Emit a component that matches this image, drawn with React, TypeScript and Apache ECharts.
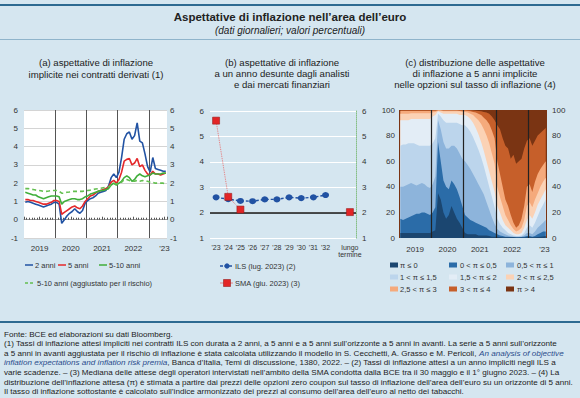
import React, { useEffect, useRef } from "react";
import * as echarts from "echarts";

const FONT = '"Liberation Sans", Arial, Helvetica, sans-serif';
const BG = "#d5e6f0";

// ---------- Panel (a): monthly readings, Jan 2019 – Jul 2023 ----------
const ils2y = [
  0.95, 1.0, 0.95, 0.9, 0.85, 0.8, 0.75, 0.7, 0.75, 0.8, 0.85, 0.95,
  0.95, 0.85, -0.2, 0.0, 0.2, 0.35, 0.45, 0.6, 0.45, 0.35, 0.5, 0.9,
  1.05, 1.15, 1.2, 1.3, 1.45, 1.5, 1.55, 1.6, 1.85, 2.3, 2.5, 2.3,
  2.6, 3.4, 4.4, 4.7, 4.8, 4.4, 4.6, 5.3, 4.3, 4.2, 3.6, 2.9,
  2.6, 3.4, 2.8, 2.75, 2.7, 2.65, 2.65,
];
const ils5y = [
  1.1, 1.1, 1.05, 1.05, 1.0, 0.95, 0.9, 0.85, 0.85, 0.9, 0.95, 1.05,
  1.05, 1.0, 0.3, 0.4, 0.5, 0.6, 0.7, 0.75, 0.65, 0.6, 0.75, 1.0,
  1.15, 1.3, 1.35, 1.45, 1.55, 1.6, 1.65, 1.7, 1.8, 2.05, 2.15, 2.0,
  2.2, 2.6, 3.2, 3.3, 3.35, 3.0, 3.1, 3.35, 2.9, 3.0, 2.7, 2.5,
  2.45, 2.65, 2.5, 2.5, 2.45, 2.5, 2.55,
];
const ils5y5y = [
  1.5, 1.45, 1.4, 1.35, 1.35, 1.25, 1.2, 1.15, 1.2, 1.25, 1.3, 1.3,
  1.3, 1.25, 0.85, 1.0, 1.05, 1.1, 1.15, 1.15, 1.1, 1.1, 1.15, 1.25,
  1.3, 1.4, 1.45, 1.5, 1.55, 1.6, 1.6, 1.65, 1.7, 1.9, 2.0, 1.9,
  2.0, 2.1, 2.3, 2.4, 2.3, 2.1, 2.2, 2.4, 2.5, 2.4, 2.35, 2.4,
  2.45, 2.55, 2.5, 2.5, 2.5, 2.55, 2.55,
];
const ils5y5yAdj = [
  1.7, 1.7, 1.68, 1.65, 1.62, 1.6, 1.58, 1.55, 1.55, 1.57, 1.6, 1.6,
  1.6, 1.55, 1.45, 1.45, 1.5, 1.52, 1.55, 1.55, 1.55, 1.55, 1.55, 1.58,
  1.6, 1.62, 1.65, 1.68, 1.7, 1.72, 1.75, 1.78, 1.8, 1.9, 1.95, 1.95,
  2.0, 2.05, 2.2, 2.2, 2.15, 2.1, 2.1, 2.15, 2.1, 2.15, 2.1, 2.1,
  2.05, 2.05, 2.0, 2.0, 2.0, 2.0, 1.95,
];
const yearLines = [2020, 2021, 2022, 2023];

// ---------- Panel (b) ----------
const horizonLabels = ["'23", "'24", "'25", "'26", "'27", "'28", "'29", "'30", "'31", "'32", "", "lungo\ntermine"];
const ils1y = [2.6, 2.53, 2.46, 2.45, 2.52, 2.52, 2.6, 2.57, 2.6, 2.69, null, null];
const smaSurvey = [5.62, 2.62, 2.12, null, null, null, null, null, null, null, null, 2.02];

// ---------- Panel (c): cumulative shares (%) ----------
const cumLe0 = [
  4, 4, 4, 4, 4, 4, 4, 4, 4, 4, 4, 4,
  5, 6, 35, 30, 20, 15, 18, 25, 20, 15, 12, 8,
  4, 3, 3, 3, 3, 2, 2, 2, 2, 1.5, 1, 1,
  1, 0.8, 0.5, 0.5, 0.5, 0.5, 0.5, 0.3, 0.3, 0.3, 0.4, 0.5,
  0.5, 0.5, 0.5, 0.8, 1, 1.2, 1.5,
];
const cumLe05 = [
  15, 14, 15, 16, 17, 18, 19, 19, 20, 20, 19, 18,
  20, 24, 75, 60, 45, 40, 38, 45, 42, 38, 32, 25,
  18, 16, 14, 13, 12, 11, 10, 9, 8, 6, 5, 4,
  3, 2, 1.5, 1, 1, 0.8, 0.7, 0.6, 0.6, 0.7, 1, 1.5,
  1.5, 1, 1.5, 3, 4, 5, 5,
];
const cumLe1 = [
  40, 40, 41, 42, 43, 42, 41, 42, 43, 42, 40, 39,
  42, 48, 92, 85, 75, 70, 70, 72, 72, 70, 66, 62,
  60, 57, 54, 50, 46, 42, 38, 34, 28, 22, 16, 11,
  7, 5, 4, 3, 2, 1.5, 1.2, 1, 1, 1.2, 2, 4,
  4, 3, 5, 8, 10, 12, 14,
];
const cumLe15 = [
  72, 73, 73, 74, 74, 74, 73, 72, 72, 72, 72, 72,
  74, 78, 97, 95, 92, 90, 90, 90, 90, 90, 89, 88,
  88, 86, 83, 79, 74, 69, 63, 56, 48, 40, 32, 24,
  15, 11, 8, 6, 4, 3, 2, 1.5, 1.5, 2, 4, 8,
  10, 8, 12, 17, 22, 26, 30,
];
const cumLe2 = [
  92, 92, 92, 92, 93, 93, 93, 93, 93, 93, 93, 93,
  95, 96, 99, 98, 97, 97, 97, 97, 97, 97, 96, 96,
  96, 95, 93, 90, 86, 81, 75, 68, 60, 52, 44, 36,
  25, 20, 14, 10, 8, 6, 4, 3, 3, 4, 8, 14,
  18, 15, 20, 26, 30, 34, 38,
];
const cumLe25 = [
  97, 97, 97, 97, 97.5, 97.5, 97.5, 97.5, 97.5, 97.5, 97.5, 97.5,
  98, 98.5, 99.5, 99.5, 99, 99, 99, 99, 99, 99, 99, 98.5,
  98.5, 98, 97, 96, 94, 92, 89, 85, 80, 74, 66, 58,
  40, 32, 25, 18, 14, 10, 7, 5, 6, 8, 14, 25,
  28, 24, 30, 35, 40, 44, 47,
];
const cumLe3 = [
  99.3, 99.3, 99.3, 99.3, 99.3, 99.3, 99.3, 99.3, 99.3, 99.3, 99.3, 99.3,
  99.5, 99.5, 99.8, 99.8, 99.6, 99.6, 99.6, 99.6, 99.6, 99.6, 99.5, 99.5,
  99.5, 99.3, 99, 98.5, 98, 97, 96, 94, 92, 89, 84, 78,
  60, 50, 40, 30, 25, 18, 12, 8, 10, 15, 25, 40,
  42, 36, 44, 50, 54, 57, 60,
];
const cumLe4 = [
  99.8, 99.8, 99.8, 99.8, 99.8, 99.8, 99.8, 99.8, 99.8, 99.8, 99.8, 99.8,
  99.9, 99.9, 99.9, 99.9, 99.9, 99.9, 99.9, 99.9, 99.9, 99.9, 99.9, 99.9,
  100, 100, 99.8, 99.7, 99.5, 99.3, 99, 98.5, 98, 97, 95, 92,
  88, 85, 78, 72, 70, 62, 65, 58, 60, 62, 70, 76,
  78, 72, 76, 80, 82, 84, 86,
];
const bandLabels = [
  "π ≤ 0", "0 < π ≤ 0,5", "0,5 < π ≤ 1",
  "1 < π ≤ 1,5", "1,5 < π ≤ 2", "2 < π ≤ 2,5",
  "2,5 < π ≤ 3", "3 < π ≤ 4", "π > 4",
];
const bandColors = [
  "#1b4670", "#2b6ca8", "#8db4db", "#bcd5ec", "#e3edf6",
  "#fbd2b5", "#f5aa7c", "#c65f2a", "#7a3413",
];
const cumSeries = [cumLe0, cumLe05, cumLe1, cumLe15, cumLe2, cumLe25, cumLe3, cumLe4];

const monthPairs = (arr: (number | null)[]) => arr.map((v, i) => [2019 + (i + 0.5) / 12, v]);

const yearFormatter = (v: number) => {
  const f = v - Math.floor(v);
  if (Math.abs(f - 0.5) > 0.01) return "";
  const y = Math.floor(v);
  return y === 2023 ? "'23" : String(y);
};

const axisLbl = { fontSize: 8, color: "#333", fontFamily: FONT };

function buildOption() {
  const txt = (x: number, y: number, text: string, extra: any = {}) => ({
    type: "text",
    x,
    y,
    silent: true,
    style: {
      text,
      fontFamily: FONT,
      fontSize: 7.5,
      fill: "#333",
      align: "left",
      verticalAlign: "middle",
      ...extra,
    },
  });

  const g: any[] = [];
  // frame lines
  g.push({ type: "rect", shape: { x: 0, y: 4, width: 580, height: 2 }, style: { fill: "#2d6a91" }, silent: true });
  g.push({ type: "rect", shape: { x: 0, y: 39, width: 580, height: 1 }, style: { fill: "#8fb4cb" }, silent: true });
  g.push({ type: "rect", shape: { x: 0, y: 321, width: 580, height: 2 }, style: { fill: "#2d6a91" }, silent: true });
  // main title
  g.push(txt(290, 17, "Aspettative di inflazione nell’area dell’euro", { fontSize: 11.5, fontWeight: "bold", fill: "#222", align: "center" }));
  g.push(txt(290, 30, "(dati giornalieri; valori percentuali)", { fontSize: 10, fontStyle: "italic", fill: "#222", align: "center" }));
  // panel titles
  const pt = { fontSize: 9.6, fill: "#222", align: "center" };
  g.push(txt(96, 62, "(a) aspettative di inflazione", pt));
  g.push(txt(96, 74, "implicite nei contratti derivati (1)", pt));
  g.push(txt(282, 62, "(b) aspettative di inflazione", pt));
  g.push(txt(282, 73, "a un anno desunte dagli analisti", pt));
  g.push(txt(282, 84, "e dai mercati finanziari", pt));
  g.push(txt(475, 62, "(c) distribuzione delle aspettative", pt));
  g.push(txt(475, 73, "di inflazione a 5 anni implicite", pt));
  g.push(txt(475, 84, "nelle opzioni sul tasso di inflazione (4)", pt));

  // legend (a)
  const legA = [
    { x: 25, y: 265, color: "#2152a3", label: "2 anni", dash: null },
    { x: 58, y: 265, color: "#e4282b", label: "5 anni", dash: null },
    { x: 99, y: 265, color: "#3fae3a", label: "5-10 anni", dash: null },
    { x: 25, y: 283, color: "#63bf4f", label: "5-10 anni (aggiustato per il rischio)", dash: [3, 2] },
  ];
  legA.forEach((l) => {
    g.push({
      type: "line",
      silent: true,
      shape: { x1: l.x, y1: l.y, x2: l.x + 8, y2: l.y },
      style: { stroke: l.color, lineWidth: 1.5, lineDash: l.dash || undefined },
    });
    g.push(txt(l.x + (l.dash ? 12 : 10), l.y, l.label));
  });

  // legend (b)
  g.push({ type: "line", silent: true, shape: { x1: 220, y1: 266, x2: 233, y2: 266 }, style: { stroke: "#2152a3", lineWidth: 1.3, lineDash: [3, 1.5] } });
  g.push({ type: "circle", silent: true, shape: { cx: 227, cy: 266, r: 2.6 }, style: { fill: "#2152a3" } });
  g.push(txt(235, 266, "ILS (lug. 2023) (2)"));
  g.push({ type: "line", silent: true, shape: { x1: 220, y1: 283, x2: 233, y2: 283 }, style: { stroke: "#e86a6a", lineWidth: 0.8 } });
  g.push({ type: "rect", silent: true, shape: { x: 223.5, y: 279.5, width: 7, height: 7 }, style: { fill: "#e32526", stroke: "#9b1c1c", lineWidth: 0.6 } });
  g.push(txt(235, 283, "SMA (giu. 2023) (3)"));

  // legend (c)
  const colX = [390, 449, 506];
  const rowY = [265, 277, 289];
  bandLabels.forEach((lab, i) => {
    const r = Math.floor(i / 3);
    const c = i % 3;
    g.push({ type: "rect", silent: true, shape: { x: colX[c], y: rowY[r] - 2.5, width: 8, height: 5 }, style: { fill: bandColors[i] } });
    g.push(txt(colX[c] + (c === 0 ? 10 : 11), rowY[r], lab));
  });

  // footnotes
  const fs = 8.1;
  const rich = {
    n: { fontFamily: FONT, fontSize: fs, fill: "#222" },
    i: { fontFamily: FONT, fontSize: fs, fill: "#2a4c8c", fontStyle: "italic" },
  };
  const foot = [
    "{n|Fonte: BCE ed elaborazioni su dati Bloomberg.}",
    "{n|(1) Tassi di inflazione attesi impliciti nei contratti ILS con durata a 2 anni, a 5 anni e a 5 anni sull’orizzonte a 5 anni in avanti. La serie a 5 anni sull’orizzonte}",
    "{n|a 5 anni in avanti aggiustata per il rischio di inflazione è stata calcolata utilizzando il modello in S. Cecchetti, A. Grasso e M. Pericoli, }{i|An analysis of objective}",
    "{i|inflation expectations and inflation risk premia}{n|, Banca d’Italia, Temi di discussione, 1380, 2022. – (2) Tassi di inflazione attesi a un anno impliciti negli ILS a}",
    "{n|varie scadenze. – (3) Mediana delle attese degli operatori intervistati nell’ambito della SMA condotta dalla BCE tra il 30 maggio e il 1° giugno 2023. – (4) La}",
    "{n|distribuzione dell’inflazione attesa (π) è stimata a partire dai prezzi delle opzioni zero coupon sul tasso di inflazione dell’area dell’euro su un orizzonte di 5 anni.}",
    "{n|Il tasso di inflazione sottostante è calcolato sull’indice armonizzato dei prezzi al consumo dell’area dell’euro al netto dei tabacchi.}",
  ];
  foot.forEach((t, i) => {
    g.push({
      type: "text",
      silent: true,
      x: 4,
      y: 334 + i * 9.6,
      style: { text: t, rich, fontFamily: FONT, fontSize: fs, fill: "#222", align: "left", verticalAlign: "middle" },
    });
  });

  const series: any[] = [];
  // panel a
  const aLines = [
    { data: ils2y, color: "#2152a3", type: "solid" },
    { data: ils5y, color: "#e4282b", type: "solid" },
    { data: ils5y5y, color: "#3fae3a", type: "solid" },
    { data: ils5y5yAdj, color: "#63bf4f", type: "dashed" },
  ];
  aLines.forEach((l, i) => {
    series.push({
      type: "line",
      xAxisIndex: 0,
      yAxisIndex: 0,
      data: monthPairs(l.data),
      showSymbol: false,
      symbol: "none",
      silent: true,
      lineStyle: { color: l.color, width: 1.6, type: l.type === "dashed" ? [4, 3] : "solid" },
      markLine:
        i === 0
          ? {
              silent: true,
              symbol: "none",
              label: { show: false },
              z: 1,
              lineStyle: { color: "#555", width: 1, type: "solid" },
              data: yearLines.map((y) => ({ xAxis: y })),
            }
          : undefined,
      z: 3,
    });
  });
  // panel b
  series.push({
    type: "line",
    xAxisIndex: 1,
    yAxisIndex: 2,
    data: ils1y,
    symbol: "circle",
    symbolSize: [7, 6],
    itemStyle: { color: "#2152a3" },
    lineStyle: { color: "#2152a3", width: 1.4, type: [3, 2] },
    silent: true,
    z: 3,
    markLine: {
      silent: true,
      symbol: "none",
      label: { show: false },
      z: 1,
      lineStyle: { color: "#111", width: 1.5, type: "solid" },
      data: [{ yAxis: 2 }],
    },
  });
  series.push({
    type: "line",
    xAxisIndex: 1,
    yAxisIndex: 2,
    data: smaSurvey,
    connectNulls: false,
    symbol: "rect",
    symbolSize: 7,
    itemStyle: { color: "#e32526", borderColor: "#9b1c1c", borderWidth: 0.6 },
    lineStyle: { color: "#e86a6a", width: 0.9, type: "dotted" },
    silent: true,
    z: 4,
  });
  // panel c (largest cumulative first)
  for (let k = cumSeries.length - 1; k >= 0; k--) {
    series.push({
      type: "line",
      xAxisIndex: 2,
      yAxisIndex: 4,
      data: monthPairs(cumSeries[k]),
      showSymbol: false,
      symbol: "none",
      silent: true,
      lineStyle: { width: 0 },
      areaStyle: { color: bandColors[k], opacity: 1 },
      markLine:
        k === 0
          ? {
              silent: true,
              symbol: "none",
              label: { show: false },
              lineStyle: { color: "#222", width: 1.2, type: "solid" },
              data: yearLines.map((y) => ({ xAxis: y })),
            }
          : undefined,
    });
  }

  return {
    animation: false,
    backgroundColor: BG,
    textStyle: { fontFamily: FONT },
    grid: [
      { left: 24, top: 110, width: 143, height: 128, show: true, backgroundColor: "#ffffff", borderWidth: 0 },
      { left: 210, top: 111, width: 146, height: 127, show: false },
      { left: 399, top: 110, width: 148, height: 128, show: true, backgroundColor: bandColors[8], borderWidth: 0 },
    ],
    xAxis: [
      {
        gridIndex: 0,
        type: "value",
        min: 2019,
        max: 2023.58,
        interval: 0.5,
        axisLine: { show: true, lineStyle: { color: "#999", width: 1 } },
        axisTick: { show: true, inside: true, length: 3, lineStyle: { color: "#555" } },
        minorTick: { show: true, splitNumber: 6, length: 2, lineStyle: { color: "#555" } },
        axisLabel: { ...axisLbl, formatter: yearFormatter, margin: 6, showMinLabel: true, showMaxLabel: true },
        splitLine: { show: false },
        minorSplitLine: { show: false },
      },
      {
        gridIndex: 1,
        type: "category",
        data: horizonLabels,
        boundaryGap: true,
        axisLine: { show: false },
        axisTick: { show: false },
        axisLabel: { fontSize: 7, color: "#333", fontFamily: FONT, interval: 0, margin: 6, lineHeight: 7 },
        splitLine: { show: false },
      },
      {
        gridIndex: 2,
        type: "value",
        min: 2019,
        max: 2023.58,
        interval: 0.5,
        axisLine: { show: false },
        axisTick: { show: false },
        axisLabel: { ...axisLbl, formatter: yearFormatter, margin: 7 },
        splitLine: { show: false },
      },
    ],
    yAxis: [
      {
        gridIndex: 0, type: "value", min: -1, max: 6, interval: 1, position: "left",
        axisLine: { show: false }, axisTick: { show: false },
        axisLabel: { ...axisLbl, margin: 6 },
        splitLine: { show: true, lineStyle: { color: "#d4d4d4", width: 1 } },
      },
      {
        gridIndex: 0, type: "value", min: -1, max: 6, interval: 1, position: "right",
        axisLine: { show: false }, axisTick: { show: false },
        axisLabel: { ...axisLbl, margin: 3 },
        splitLine: { show: false },
      },
      {
        gridIndex: 1, type: "value", min: 1, max: 6, interval: 1, position: "left",
        axisLine: { show: false }, axisTick: { show: false },
        axisLabel: { ...axisLbl, margin: 6 },
        splitLine: { show: true, lineStyle: { color: "#ffffff", width: 1 } },
      },
      {
        gridIndex: 1, type: "value", min: 1, max: 6, interval: 1, position: "right",
        axisLine: { show: true, lineStyle: { color: "#86bf86", width: 1, type: "dotted" } },
        axisTick: { show: false },
        axisLabel: { ...axisLbl, margin: 6 },
        splitLine: { show: false },
      },
      {
        gridIndex: 2, type: "value", min: 0, max: 100, interval: 20, position: "left",
        axisLine: { show: false }, axisTick: { show: false },
        axisLabel: { ...axisLbl, margin: 4 },
        splitLine: { show: false },
      },
      {
        gridIndex: 2, type: "value", min: 0, max: 100, interval: 20, position: "right",
        axisLine: { show: false }, axisTick: { show: false },
        axisLabel: { ...axisLbl, margin: 5 },
        splitLine: { show: false },
      },
    ],
    series,
    graphic: { elements: g },
  };
}

export default function App() {
  const ref = useRef<HTMLDivElement>(null);
  useEffect(() => {
    if (!ref.current) return;
    const chart = echarts.init(ref.current, null, { renderer: "svg", width: 580, height: 398 });
    chart.setOption(buildOption() as any);
    return () => chart.dispose();
  }, []);
  return (
    <div
      ref={ref}
      style={{ position: "absolute", left: 0, top: 0, width: 580, height: 398, background: BG }}
    />
  );
}
